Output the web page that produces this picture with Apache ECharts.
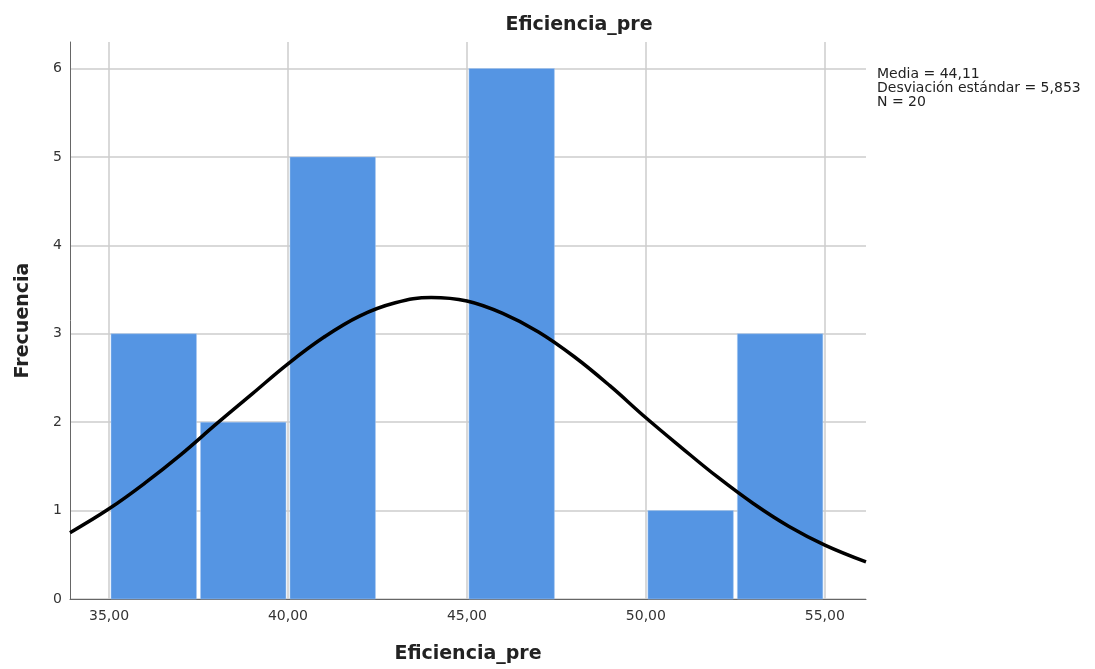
<!DOCTYPE html>
<html>
<head>
<meta charset="utf-8">
<title>Eficiencia_pre</title>
<script src="https://cdn.jsdelivr.net/npm/echarts@6/dist/echarts.min.js"></script>
<style>
  html, body { margin: 0; padding: 0; background: #fff; }
  #chart { width: 1095px; height: 669px; }
</style>
</head>
<body>
<div id="chart"></div>
<script>
// histogram bins (start of each bin, width 2.5) and counts
var binStarts = [35, 37.5, 40, 42.5, 45, 47.5, 50, 52.5];
var binWidth = 2.5;
var counts = [3, 2, 5, 0, 6, 0, 1, 3];

// normal curve
var curveX = [33.91, 35, 36, 37, 38, 39, 40, 41, 42, 43, 44, 45, 46, 47, 48, 49, 50, 51, 52, 53, 54, 55, 56.15];
var curveY = [0.75, 1.02, 1.31, 1.63, 1.98, 2.32, 2.66, 2.96, 3.20, 3.35, 3.41, 3.37, 3.23, 3.02, 2.74, 2.41, 2.05, 1.71, 1.38, 1.08, 0.82, 0.61, 0.42];

var xTicks = [35, 40, 45, 50, 55];
var statsLines = ["Media = 44,11", "Desviación estándar = 5,853", "N = 20"];

var font = "'DejaVu Sans', 'Noto Sans', sans-serif";

var barData = [];
for (var i = 0; i < binStarts.length; i++) {
  if (counts[i] > 0) barData.push([binStarts[i], binStarts[i] + binWidth, counts[i]]);
}
var lineData = [];
for (var j = 0; j < curveX.length; j++) lineData.push([curveX[j], curveY[j]]);

var chart = echarts.init(document.getElementById("chart"));
chart.setOption({
  backgroundColor: "#fff",
  animation: false,
  title: {
    text: "Eficiencia_pre",
    left: 574,
    top: 11,
    textAlign: "center",
    textStyle: { fontFamily: font, fontSize: 19, fontWeight: "bold", color: "#222" }
  },
  grid: { left: 70, right: 229, top: 42, bottom: 69 },
  xAxis: {
    type: "value",
    min: 33.91,
    max: 56.15,
    name: "Eficiencia_pre",
    nameLocation: "middle",
    nameGap: 46,
    nameTextStyle: { fontFamily: font, fontSize: 19, fontWeight: "bold", color: "#222" },
    axisLine: { lineStyle: { color: "#666", width: 1 } },
    axisTick: { show: false, customValues: xTicks },
    axisLabel: {
      customValues: xTicks,
      fontFamily: font, fontSize: 14, color: "#333", margin: 10,
      formatter: function (v) { return v.toFixed(2).replace(".", ","); }
    },
    splitLine: { show: true, lineStyle: { color: "#cccccc", width: 1.5 } }
  },
  yAxis: {
    type: "value",
    min: 0,
    max: 6.3,
    interval: 1,
    name: "Frecuencia",
    nameLocation: "middle",
    nameGap: 37,
    nameTextStyle: { fontFamily: font, fontSize: 19, fontWeight: "bold", color: "#222" },
    axisLine: { show: true, lineStyle: { color: "#666", width: 1 } },
    axisTick: { show: false },
    axisLabel: {
      fontFamily: font, fontSize: 14, color: "#333", margin: 8,
      formatter: function (v) { return v > 6 ? "" : String(v); }
    },
    splitLine: { show: true, showMaxLine: false, lineStyle: { color: "#cccccc", width: 1.5 } }
  },
  series: [
    {
      type: "custom",
      data: barData,
      encode: { x: [0, 1], y: 2 },
      renderItem: function (params, api) {
        var p0 = api.coord([api.value(0), api.value(2)]);
        var p1 = api.coord([api.value(1), 0]);
        return {
          type: "rect",
          shape: { x: p0[0] + 2, y: p0[1], width: p1[0] - p0[0] - 4, height: p1[1] - p0[1] },
          style: { fill: "#5595e3", stroke: "#a9c8f0", lineWidth: 0.5 }
        };
      },
      z: 2
    },
    {
      type: "line",
      data: lineData,
      smooth: 0.4,
      showSymbol: false,
      lineStyle: { color: "#000", width: 3.5 },
      z: 3
    }
  ],
  graphic: [
    {
      type: "text",
      left: 877,
      top: 67,
      style: {
        text: statsLines.join("\n"),
        font: "14px " + font,
        lineHeight: 14,
        fill: "#222"
      }
    }
  ]
});
</script>
</body>
</html>
